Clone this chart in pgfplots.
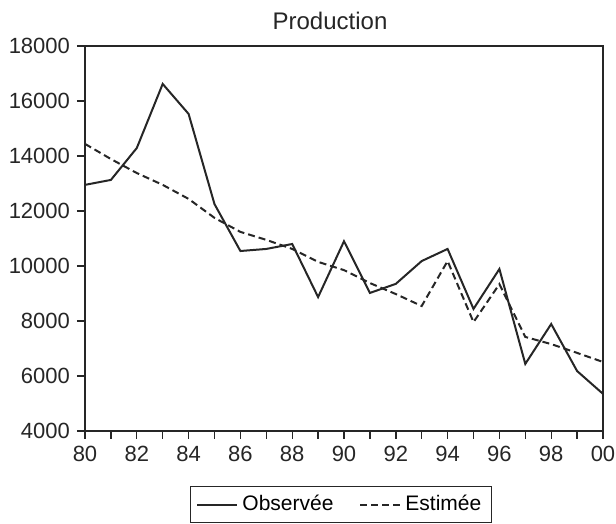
\documentclass[border=0pt]{standalone}
\usepackage{fontspec}
\setmainfont{Liberation Sans}
\usepackage{pgfplots}
\pgfplotsset{compat=1.18}
\begin{document}
\begin{tikzpicture}
\begin{axis}[
  at={(0,0)}, anchor=south west,
  scale only axis, width=259pt, height=192.5pt,
  xmin=80, xmax=100, ymin=4000, ymax=18000,
  xtick={80,82,...,100},
  xticklabels={80,82,84,86,88,90,92,94,96,98,00},
  minor xtick={81,83,...,99},
  ytick={4000,6000,...,18000},
  tick align=outside, tick pos=left,
  major tick length=4pt, minor tick length=4pt,
  every tick/.style={black!85, line width=0.7pt},
  axis line style={black!85, line width=0.8pt},
  /pgf/number format/assume math mode=true,
  /pgf/number format/1000 sep={},
  scaled y ticks=false,
  tick label style={font=\fontsize{11}{13}\selectfont, text=black!85},
  legend style={at={(0.494,-0.191)}, anchor=center, legend columns=2,
    draw=black!85, line width=0.6pt, font=\fontsize{10.5}{12}\selectfont,
    /tikz/every even column/.append style={column sep=11pt},
    inner xsep=3pt, inner ysep=2.5pt},
  legend image code/.code={\draw[#1] (0pt,0pt) -- (20pt,0pt);},
  legend cell align=left,
]
\addplot[black!85, line width=1pt] coordinates {
(80,12950) (81,13130) (82,14290) (83,16620) (84,15530) (85,12250)
(86,10545) (87,10620) (88,10800) (89,8870) (90,10900) (91,9020)
(92,9350) (93,10180) (94,10620) (95,8440) (96,9890) (97,6440)
(98,7890) (99,6180) (100,5350)};
\addlegendentry{Observée}
\addplot[black!85, line width=1pt, dash pattern=on 3.5pt off 2pt] coordinates {
(80,14440) (81,13890) (82,13380) (83,12950) (84,12440) (85,11750)
(86,11240) (87,10950) (88,10620) (89,10150) (90,9850) (91,9380)
(92,8980) (93,8545) (94,10180) (95,7960) (96,9340) (97,7420)
(98,7160) (99,6840) (100,6510)};
\addlegendentry{Estimée}
\end{axis}
\node[font=\fontsize{12}{14}\selectfont, text=black!85] at (122.5pt,205pt) {Production};
\pgfresetboundingbox
\path (-42.5pt,-46.5pt) rectangle (265.5pt,215.5pt);
\end{tikzpicture}
\end{document}
